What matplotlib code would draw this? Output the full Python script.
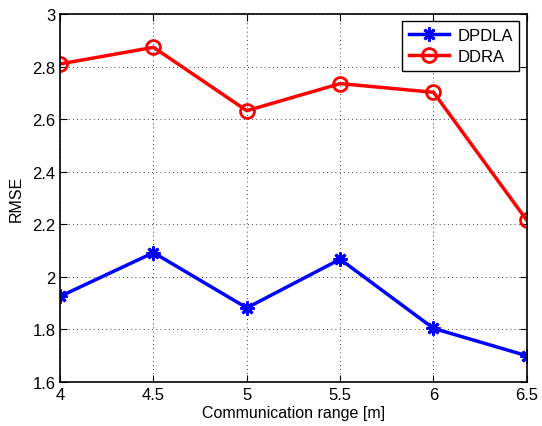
import matplotlib
matplotlib.use("Agg")
from matplotlib import pyplot as plt

plt.rcParams['font.family'] = ['Liberation Sans', 'DejaVu Sans']

comm_range = [4, 4.5, 5, 5.5, 6, 6.5]
rmse_dpdla = [1.926, 2.092, 1.882, 2.067, 1.804, 1.70]
rmse_ddra = [2.81, 2.873, 2.632, 2.735, 2.702, 2.215]

fig = plt.figure(figsize=(5.42, 4.27), dpi=100)
ax = fig.add_axes([0.111, 0.103, 0.861, 0.862])

# asterisk marker, 8 arms
ax.plot(comm_range, rmse_dpdla, color="blue", marker=(8, 2, 0), ls="-", lw=2.5,
        markersize=10, markeredgewidth=2, label="DPDLA")
ax.plot(comm_range, rmse_ddra, color="red", marker="o", ls="-", lw=2.5,
        markersize=10, markeredgewidth=2, markerfacecolor="none", label="DDRA")

ax.set_xlim(4, 6.5)
ax.set_ylim(1.6, 3)
ax.set_xticks(comm_range)
ax.set_xticklabels(["4", "4.5", "5", "5.5", "6", "6.5"])
ax.set_yticks([1.6, 1.8, 2, 2.2, 2.4, 2.6, 2.8, 3])
ax.set_yticklabels(["1.6", "1.8", "2", "2.2", "2.4", "2.6", "2.8", "3"])
ax.tick_params(direction="in", top=True, right=True, labelsize=12, length=5)
ax.grid(True, ls=(0, (1, 4)), color="black", lw=0.6)
for s in ax.spines.values():
    s.set_linewidth(1.2)

ax.set_xlabel("Communication range [m]", fontsize=11.5, labelpad=2)
ax.set_ylabel("RMSE", fontsize=11.5, labelpad=6)
leg = ax.legend(loc="upper right", fontsize=12, fancybox=False, framealpha=1,
                edgecolor="black", borderaxespad=0.45, handlelength=2.4,
                borderpad=0.4, labelspacing=0.35, handletextpad=0.5)
leg.get_frame().set_linewidth(1.0)

plt.savefig("out.png", dpi=100)
